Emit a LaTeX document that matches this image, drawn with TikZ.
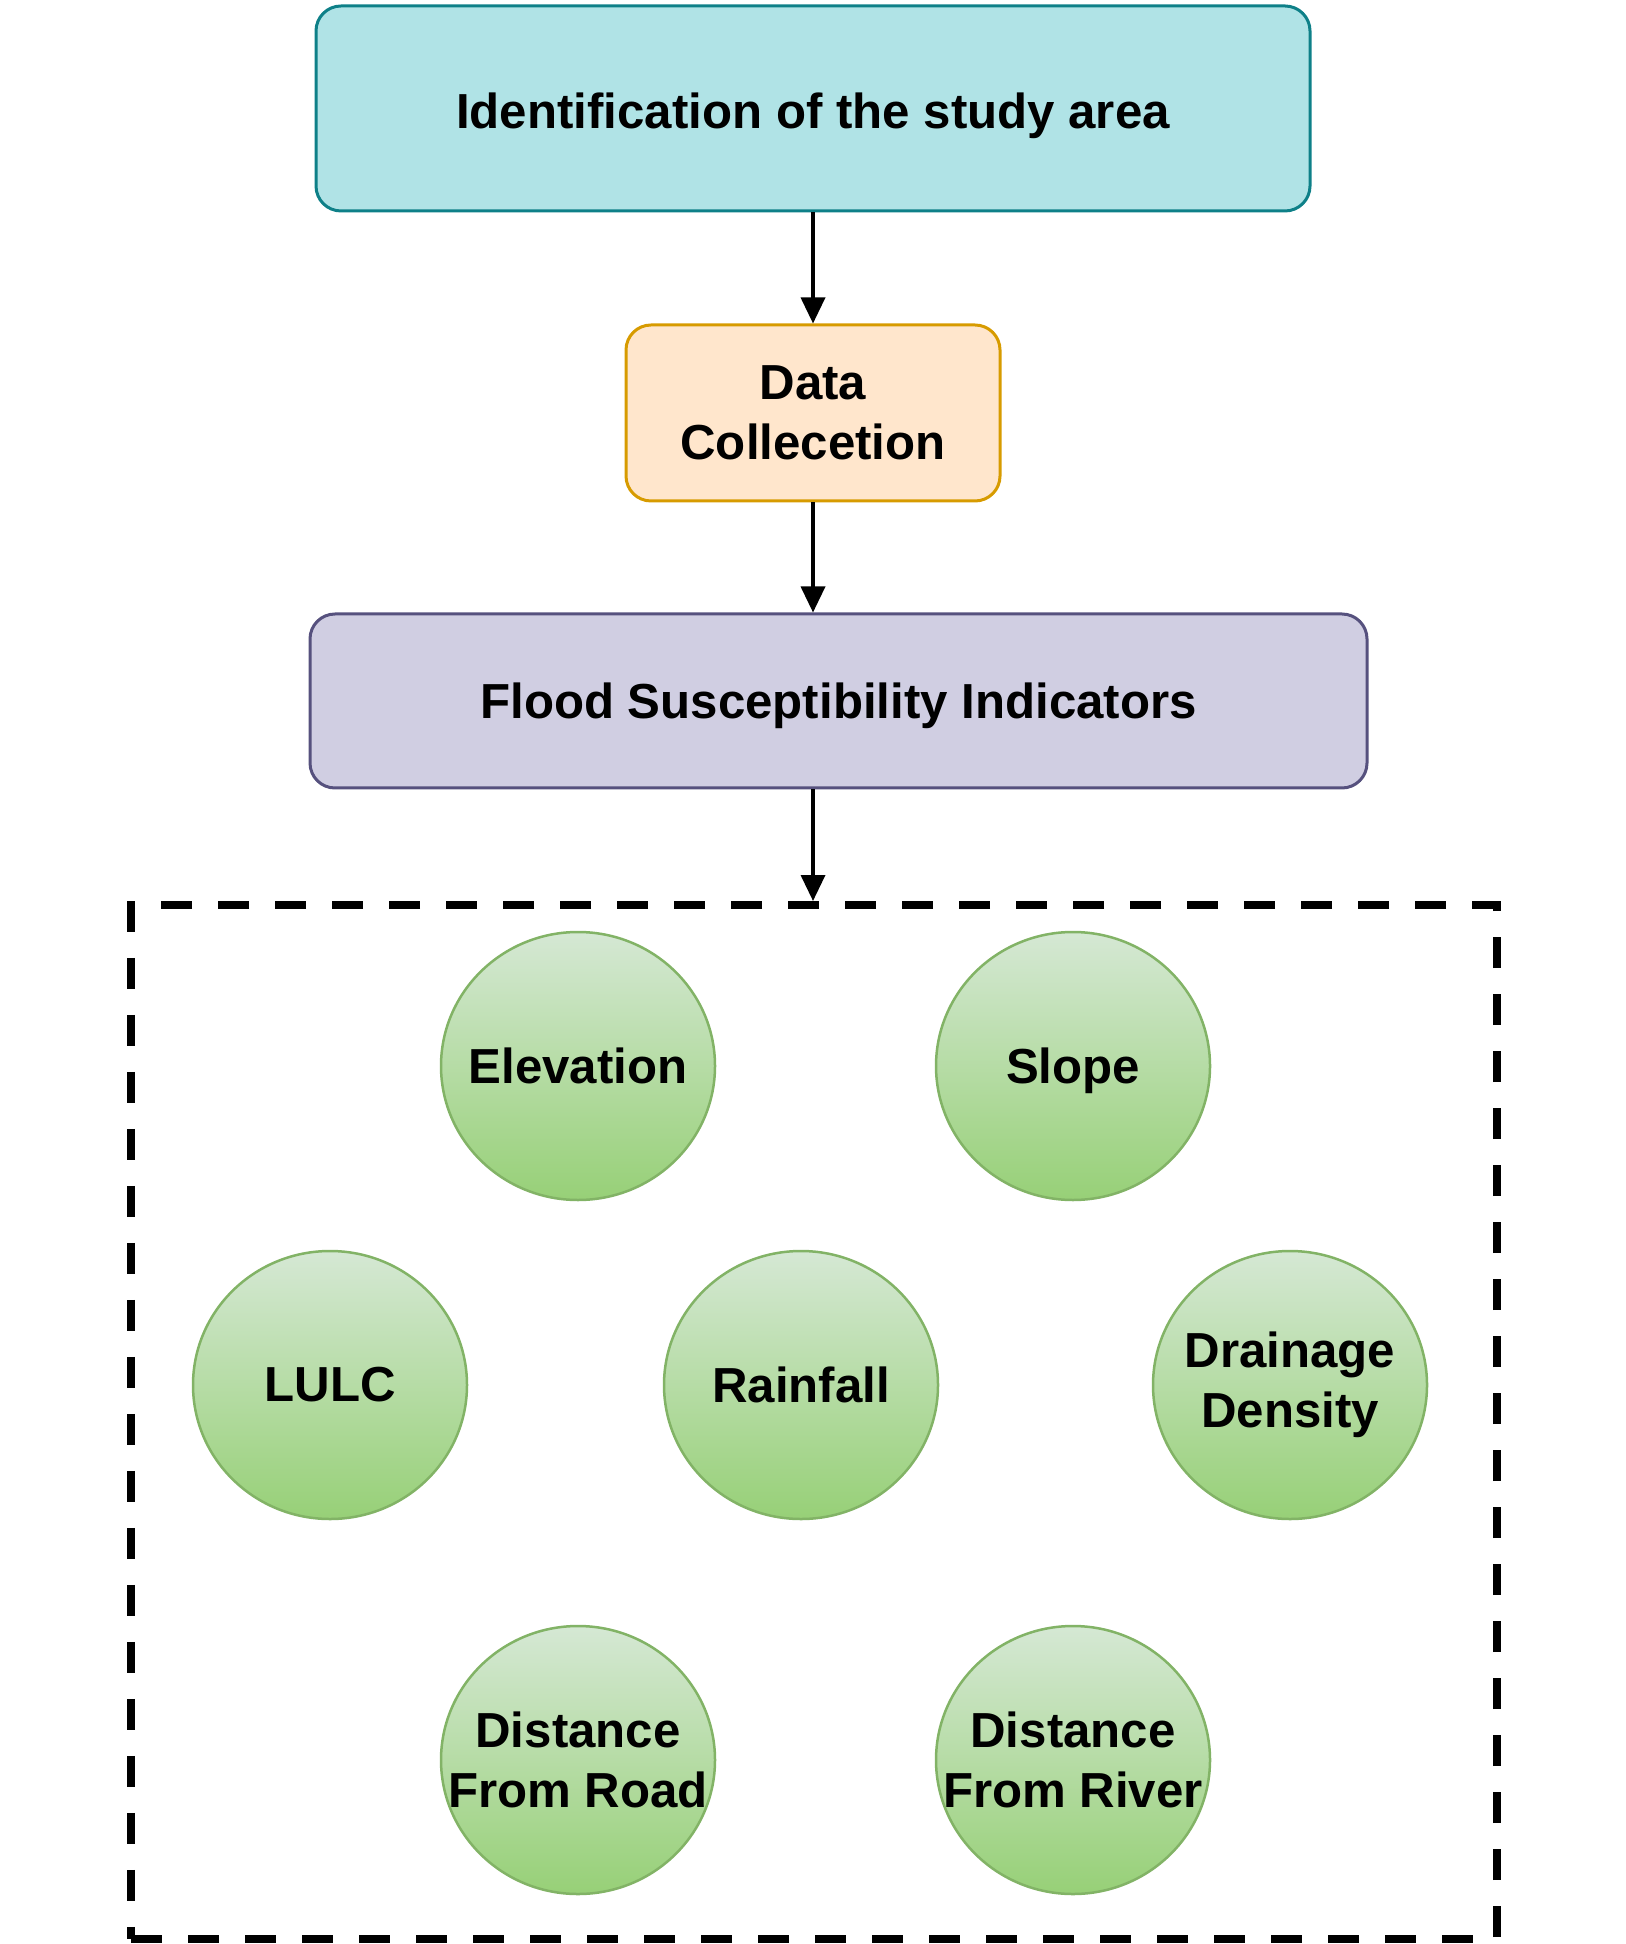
\documentclass[tikz,border=0pt]{standalone}
\usepackage{fontspec}
\setmainfont{Liberation Sans}
\usetikzlibrary{shapes.geometric,arrows.meta}
\definecolor{tealfill}{HTML}{B0E3E6}
\definecolor{tealline}{HTML}{0E8088}
\definecolor{orfill}{HTML}{FFE6CC}
\definecolor{orline}{HTML}{D79B00}
\definecolor{pufill}{HTML}{D0CEE2}
\definecolor{puline}{HTML}{56517E}
\definecolor{gtop}{HTML}{D5E8D4}
\definecolor{gbot}{HTML}{97D077}
\definecolor{gline}{HTML}{82B366}
\tikzset{
  lbl/.style={font=\fontsize{14}{17}\selectfont\bfseries, align=center, text=black},
  stepbox/.style={lbl, rectangle, rounded corners=0.25cm, line width=0.03cm, inner sep=0pt},
  fshape/.style={ellipse, minimum width=2.74cm, minimum height=2.68cm, inner sep=0pt,
    draw=gline, line width=0.025cm, top color=gtop, bottom color=gbot},
  factor/.style={fshape, label={[lbl, inner sep=0pt]center:#1}},
  flow/.style={line width=1pt, -{Triangle[width=0.24cm,length=0.26cm]}},
}
\begin{document}
\begin{tikzpicture}
\useasboundingbox (0,0) rectangle (16.25,-19.44);
\node[stepbox, draw=tealline, fill=tealfill, minimum width=9.94cm, minimum height=2.05cm, text height=0.51cm, text depth=0.10cm] (top) at (8.13,-1.085) {Identification of the study area};
\node[stepbox, draw=orline, fill=orfill, minimum width=3.74cm, minimum height=1.76cm] (data) at (8.13,-4.13) {Data\\Collecetion};
\node[stepbox, draw=puline, fill=pufill, minimum width=10.57cm, minimum height=1.74cm, text height=0.45cm, text depth=0.10cm] (flood) at (8.385,-7.01) {Flood Susceptibility Indicators};
\node[draw=black, line width=0.08cm, dash pattern=on 0.31cm off 0.26cm, minimum width=13.66cm, minimum height=10.34cm, inner sep=0pt] (group) at (8.14,-14.22) {};
\node[factor={Elevation}] (elev) at (5.78,-10.66) {};
\node[fshape, label={[lbl, inner sep=0pt, yshift=-0.05cm]center:Slope}] (slope) at (10.73,-10.66) {};
\node[factor={LULC}] (lulc) at (3.30,-13.85) {};
\node[factor={Rainfall}] (rain) at (8.01,-13.85) {};
\node[factor={{Drainage\\Density}}] (drain) at (12.90,-13.85) {};
\node[factor={{Distance\\From Road}}] (road) at (5.78,-17.60) {};
\node[factor={{Distance\\From River}}] (river) at (10.73,-17.60) {};
\draw[flow] (top.south) -- (data.north);
\draw[flow] (data.south) -- (flood.north -| data.north);
\draw[flow] (flood.south -| data.south) -- (group.north -| data.south);
\end{tikzpicture}
\end{document}
